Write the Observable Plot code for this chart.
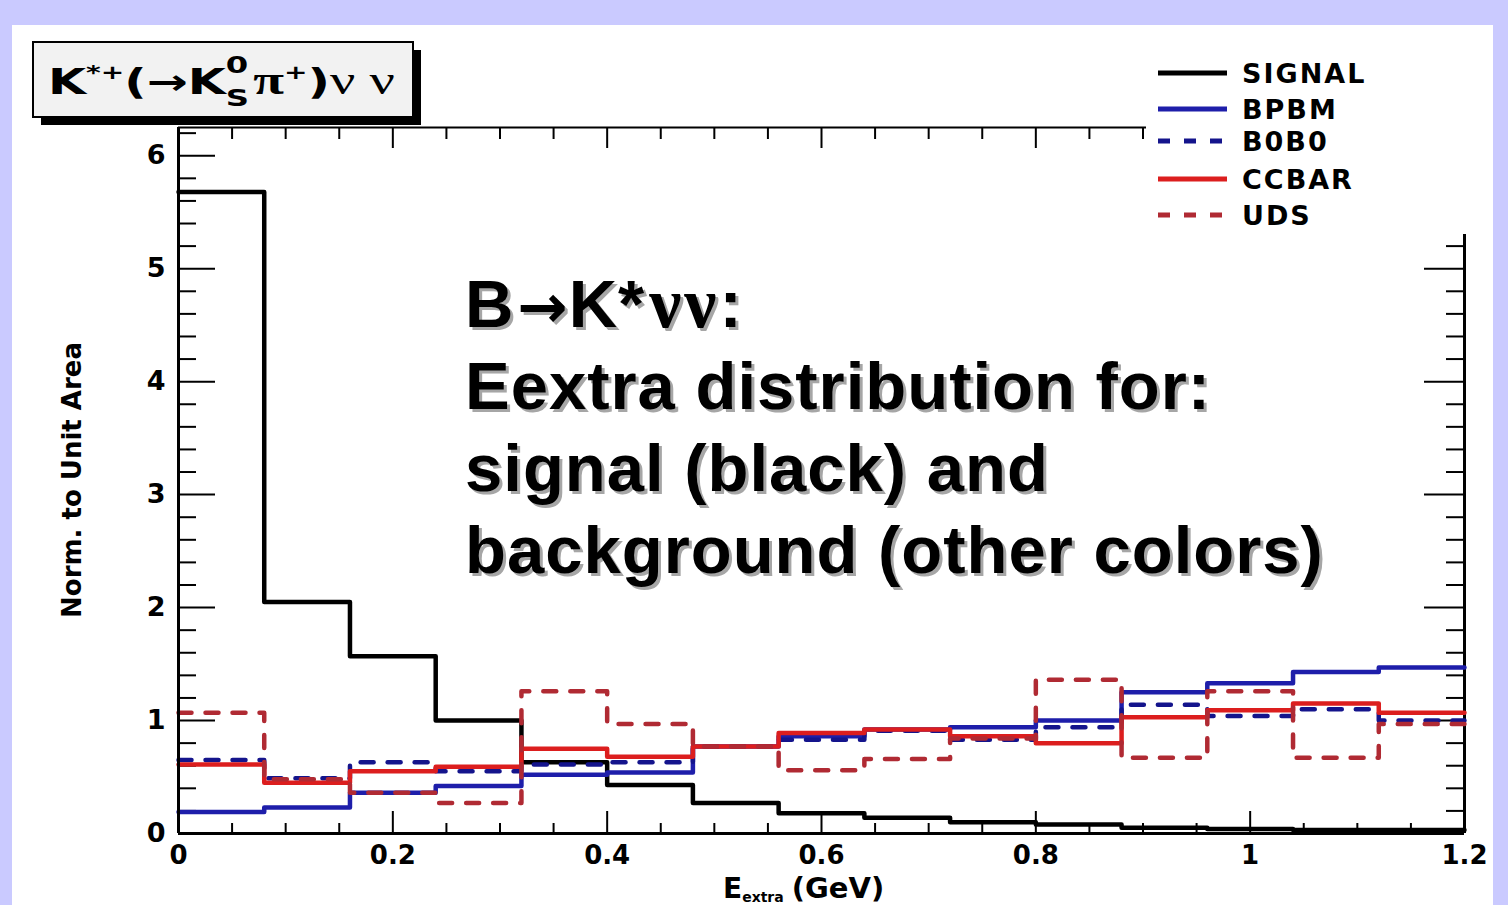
<!DOCTYPE html>
<html><head><meta charset="utf-8">
<script src="https://cdn.jsdelivr.net/npm/d3@7"></script>
<script src="https://cdn.jsdelivr.net/npm/@observablehq/plot@0.6"></script>
<style>
html,body{margin:0;padding:0;background:#cacaff;width:1508px;height:905px;overflow:hidden}
#panel{position:absolute;left:12px;top:25px;width:1481px;height:880px;background:#fff}
#chart{position:absolute;left:0;top:0}
#overlay{position:absolute;left:0;top:0}
</style></head><body>
<div id="panel"></div><div id="chart"></div>
<svg id="overlay" width="1508" height="905"></svg>
<script>
// ---- data ----
const binEdges = [0, 0.08, 0.16, 0.24, 0.32, 0.40, 0.48, 0.56, 0.64, 0.72, 0.80, 0.88, 0.96, 1.04, 1.12, 1.20];
const signal = [5.68, 2.05, 1.57, 1.00, 0.63, 0.43, 0.27, 0.18, 0.14, 0.10, 0.08, 0.05, 0.04, 0.03, 0.03];
const bpbm   = [0.19, 0.23, 0.36, 0.42, 0.52, 0.54, 0.77, 0.86, 0.92, 0.94, 1.00, 1.25, 1.33, 1.43, 1.47];
const b0b0   = [0.65, 0.49, 0.63, 0.55, 0.61, 0.63, 0.77, 0.83, 0.91, 0.83, 0.94, 1.14, 1.04, 1.10, 1.00];
const ccbar  = [0.61, 0.45, 0.55, 0.59, 0.75, 0.68, 0.77, 0.89, 0.92, 0.86, 0.80, 1.03, 1.09, 1.15, 1.07];
const uds    = [1.07, 0.48, 0.36, 0.27, 1.26, 0.97, 0.77, 0.56, 0.66, 0.84, 1.36, 0.67, 1.26, 0.67, 0.97];
const seriesNames = ["SIGNAL", "BPBM", "B0B0", "CCBAR", "UDS"];
const xTickLabels = [0, 0.2, 0.4, 0.6, 0.8, 1, 1.2];
const yTickLabels = [0, 1, 2, 3, 4, 5, 6];
const yMax = 6.25;

// ---- styles ----
const styles = {
  SIGNAL: {stroke: "#000000", dash: null},
  BPBM:   {stroke: "#1e1eaa", dash: null},
  B0B0:   {stroke: "#14148c", dash: "13,14"},
  CCBAR:  {stroke: "#dc1e1e", dash: null},
  UDS:    {stroke: "#b02a33", dash: "13,14"}
};
const seriesValues = {SIGNAL: signal, BPBM: bpbm, B0B0: b0b0, CCBAR: ccbar, UDS: uds};

const steps = vals => binEdges.map((x, i) => ({x, y: vals[Math.min(i, vals.length - 1)]}));

const xMinor = d3.range(0, 1.2001, 0.05).map(v => +v.toFixed(2)).filter(v => !xTickLabels.includes(v));
const yMinor = d3.range(0, yMax, 0.2).map(v => +v.toFixed(1)).filter(v => !yTickLabels.includes(v));

const font = "DejaVu Sans";
const tickStroke = {stroke: "#000", strokeWidth: 2};

const histMarks = seriesNames.map(name => Plot.line(steps(seriesValues[name]), {
  x: "x", y: "y", curve: "step-after",
  stroke: styles[name].stroke, strokeWidth: 4.5,
  strokeDasharray: styles[name].dash || undefined
}));

const chart = Plot.plot({
  width: 1508, height: 905,
  marginTop: 127, marginBottom: 72, marginLeft: 178, marginRight: 44,
  style: {background: "transparent", fontFamily: font, fontSize: "27px", fontWeight: "bold", overflow: "visible"},
  x: {domain: [0, 1.2]},
  y: {domain: [0, yMax]},
  marks: [
    Plot.ruleY(yTickLabels, {x1: 0, x2: 0, insetRight: -37, ...tickStroke}),
    Plot.ruleY(yMinor, {x1: 0, x2: 0, insetRight: -18, ...tickStroke}),
    Plot.ruleY(yTickLabels, {x1: 1.2, x2: 1.2, insetLeft: -40, ...tickStroke}),
    Plot.ruleY(yMinor, {x1: 1.2, x2: 1.2, insetLeft: -18, ...tickStroke}),
    Plot.ruleX(xTickLabels, {y1: 0, y2: 0, insetTop: -22, ...tickStroke}),
    Plot.ruleX(xMinor, {y1: 0, y2: 0, insetTop: -10, ...tickStroke}),
    Plot.ruleX(xTickLabels, {y1: yMax, y2: yMax, insetBottom: -21, ...tickStroke}),
    Plot.ruleX(xMinor, {y1: yMax, y2: yMax, insetBottom: -12, ...tickStroke}),
    Plot.ruleY([yMax], {stroke: "#000", strokeWidth: 2}),
    Plot.ruleX([1.2], {stroke: "#000", strokeWidth: 3}),
    ...histMarks,
    Plot.ruleX([0], {stroke: "#000", strokeWidth: 3}),
    Plot.ruleY([0], {stroke: "#000", strokeWidth: 3}),
    Plot.axisY({ticks: yTickLabels, anchor: "left", tickSize: 0, tickPadding: 13, tickFormat: d => String(d),
      fontSize: 27, fontWeight: "bold", fontFamily: font, label: null}),
    Plot.axisX({ticks: xTickLabels, anchor: "bottom", tickSize: 0, tickPadding: 12, tickFormat: d => String(d),
      fontSize: 26, fontWeight: "bold", fontFamily: font, label: null})
  ]
});
document.getElementById("chart").appendChild(chart);

// ---- overlay: legend, title box, axis titles, annotation ----
const ov = d3.select("#overlay");

// Legend box (white, hides frame corner)
const lg = ov.append("g");
lg.append("rect").attr("x", 1146).attr("y", 42).attr("width", 346).attr("height", 192).attr("fill", "#fff");
const legendY = [73, 109, 141, 179, 215];
seriesNames.forEach((name, i) => {
  lg.append("line").attr("x1", 1158).attr("x2", 1227).attr("y1", legendY[i]).attr("y2", legendY[i])
    .attr("stroke", styles[name].stroke).attr("stroke-width", 5)
    .attr("stroke-dasharray", styles[name].dash ? "12,14" : null);
  lg.append("text").attr("x", 1242).attr("y", legendY[i]).attr("dy", "0.36em")
    .attr("font-family", font).attr("font-weight", "bold").attr("font-size", 27)
    .attr("letter-spacing", 2).text(name);
});

// Title box
const tb = ov.append("g");
tb.append("rect").attr("x", 41).attr("y", 50).attr("width", 380).attr("height", 75).attr("fill", "#000");
tb.append("rect").attr("x", 33).attr("y", 42).attr("width", 380).attr("height", 75)
  .attr("fill", "#f2f2f2").attr("stroke", "#000").attr("stroke-width", 2);
const tg = tb.append("g");
const tt = tg.append("text").attr("x", 48).attr("y", 94)
  .attr("font-family", font).attr("font-weight", "bold").attr("font-size", 35);
tt.append("tspan").text("K");
tt.append("tspan").attr("font-size", 20).attr("dy", -15).text("*+");
tt.append("tspan").attr("dy", 15).text("(→K");
tt.append("tspan").attr("font-size", 23).attr("dy", -21).text("0");
tt.append("tspan").attr("font-size", 23).attr("dx", -16).attr("dy", 33).text("S");
tt.append("tspan").attr("font-family", "Liberation Serif").attr("font-size", 40).attr("dx", 3).attr("dy", -12).text("π");
tt.append("tspan").attr("font-size", 20).attr("dy", -15).text("+");
tt.append("tspan").attr("dy", 15).text(")");
tt.append("tspan").attr("font-family", "Liberation Serif").attr("font-weight", "normal").attr("font-size", 40).text("ν ν");
{
  const bb = tt.node().getBBox();
  const s = (395 - 48) / bb.width;
  tg.attr("transform", `translate(48,0) scale(${s},1) translate(-48,0)`);
}

// Axis titles
ov.append("text").attr("transform", "translate(72,480) rotate(-90)")
  .attr("text-anchor", "middle").attr("dy", "0.36em")
  .attr("font-family", font).attr("font-weight", "bold").attr("font-size", 26)
  .text("Norm. to Unit Area");
const xl = ov.append("text").attr("x", 723).attr("y", 898)
  .attr("font-family", font).attr("font-weight", "bold").attr("font-size", 28);
xl.append("tspan").text("E");
xl.append("tspan").attr("font-size", 14).attr("dy", 4).text("extra");
xl.append("tspan").attr("dy", -4).attr("dx", 8).attr("font-size", 29).text("(GeV)");

// Annotation with drop shadow
const annLines = [
  [["B", null], ["→", "arrow"], ["K*", null], ["νν", "serif"], [":", null]],
  [["Eextra distribution for:", null]],
  [["signal (black) and", null]],
  [["background (other colors)", null]]
];
const annBase = [327, 409, 491, 573];
[["#a6a6a6", 3], ["#000", 0]].forEach(([fill, off]) => {
  annLines.forEach((parts, i) => {
    const t = ov.append("text").attr("x", 465 + off).attr("y", annBase[i] + off)
      .attr("font-family", "Liberation Sans").attr("font-weight", "bold")
      .attr("font-size", 67).attr("letter-spacing", 1).attr("fill", fill);
    parts.forEach(([s, f]) => {
      const sp = t.append("tspan").text(s);
      if (f === "serif") sp.attr("font-family", "Liberation Serif").attr("font-size", 72).attr("dx", 4).attr("letter-spacing", 3);
      if (f === "arrow") sp.attr("font-family", "DejaVu Sans").attr("font-size", 60).attr("dx", 3);
    });
  });
});
</script>
</body></html>
